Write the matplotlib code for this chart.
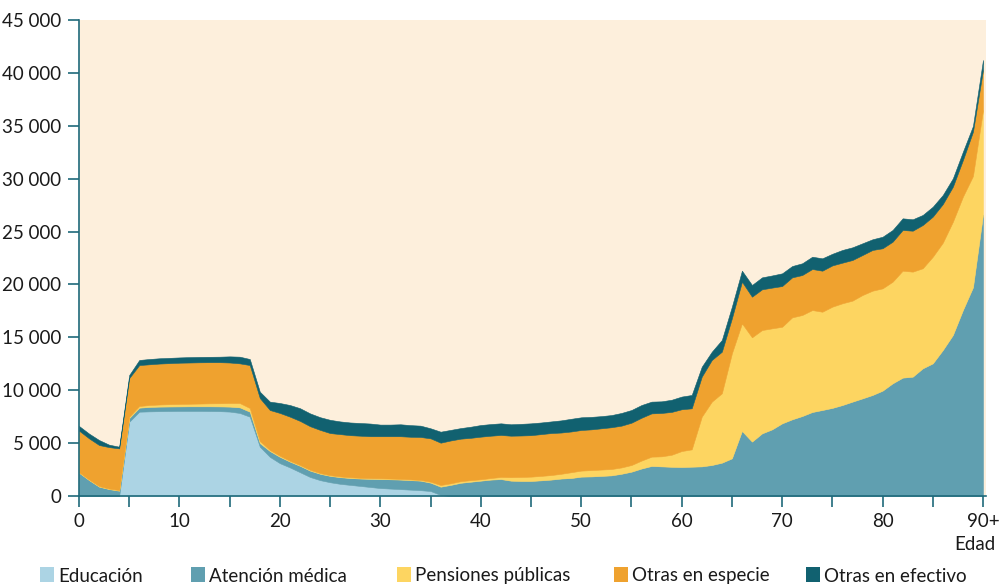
import numpy as np
import matplotlib.pyplot as plt
from matplotlib.patches import Rectangle
from matplotlib.ticker import FuncFormatter, MultipleLocator

plt.rcParams['font.family'] = ['Lato', 'DejaVu Sans']

ages = np.arange(0, 91)

educacion = [0, 0, 0, 0, 0, 7020, 7970, 8000, 8020, 8030,
             8040, 8040, 8040, 8030, 8020, 7980, 7850, 7500, 4660, 3700,
             3100, 2700, 2250, 1800, 1500, 1300, 1150, 1050, 950, 850,
             750, 700, 650, 600, 550, 470, 100, 0, 0, 0,
             0, 0, 0, 0, 0, 0, 0, 0, 0, 0,
             0, 0, 0, 0, 0, 0, 0, 0, 0, 0,
             0, 0, 0, 0, 0, 0, 0, 0, 0, 0,
             0, 0, 0, 0, 0, 0, 0, 0, 0, 0,
             0, 0, 0, 0, 0, 0, 0, 0, 0, 0, 0]

atencion = [2200, 1500, 880, 650, 500, 350, 380, 420, 430, 430,
            430, 440, 440, 450, 450, 470, 530, 470, 340, 550,
            600, 550, 600, 600, 600, 600, 630, 650, 700, 770,
            850, 880, 900, 900, 900, 790, 780, 1050, 1250, 1350,
            1450, 1550, 1600, 1450, 1420, 1420, 1480, 1550, 1650, 1700,
            1830, 1850, 1900, 1950, 2100, 2300, 2600, 2840, 2800, 2760,
            2740, 2770, 2800, 2930, 3150, 3560, 6150, 5140, 5920, 6300,
            6870, 7250, 7560, 7940, 8130, 8330, 8600, 8920, 9230, 9550,
            9960, 10650, 11190, 11280, 12070, 12540, 13800, 15220, 17580, 19730,
            26600]

pensiones = [50, 60, 60, 50, 60, 130, 160, 180, 200, 220,
             230, 240, 260, 280, 300, 340, 410, 350, 200, 100,
             100, 80, 80, 80, 70, 70, 70, 70, 70, 70,
             70, 70, 70, 70, 70, 90, 160, 150, 150, 150,
             130, 150, 200, 330, 380, 410, 420, 430, 450, 550,
             570, 600, 600, 600, 600, 630, 750, 880, 950, 1140,
             1510, 1640, 4700, 5990, 6560, 9930, 10170, 9860, 9770, 9550,
             9130, 9640, 9550, 9640, 9290, 9570, 9620, 9550, 9770, 9860,
             9670, 9610, 10110, 9930, 9460, 10080, 10150, 10710, 10720, 10520,
             9890]

especie = [3930, 3890, 3880, 3920, 3940, 3650, 3870, 3850, 3870, 3880,
           3900, 3900, 3900, 3890, 3880, 3830, 3750, 4060, 4060, 3780,
           4050, 4170, 4170, 4120, 4080, 3980, 4000, 3980, 3980, 3960,
           3980, 4000, 4030, 4030, 4060, 4100, 4000, 4050, 4020, 4000,
           4030, 4000, 3970, 3920, 3920, 3920, 3950, 3970, 3900, 3850,
           3840, 3850, 3900, 3950, 3950, 4000, 4050, 4090, 4100, 4050,
           3950, 3880, 3780, 3940, 3930, 3310, 3940, 3840, 3850, 3850,
           3850, 3780, 3780, 3880, 3880, 3900, 3840, 3840, 3780, 3850,
           3790, 3780, 3850, 3870, 4090, 3790, 3650, 3310, 3460, 4190,
           3780]

efectivo = [440, 450, 470, 230, 160, 290, 480, 500, 500, 500,
            500, 510, 510, 510, 520, 580, 630, 570, 600, 790,
            940, 1100, 1200, 1210, 1200, 1250, 1200, 1200, 1200, 1200,
            1100, 1100, 1130, 1100, 1070, 950, 1040, 1000, 1000, 1050,
            1100, 1100, 1100, 1080, 1100, 1120, 1100, 1100, 1150, 1200,
            1200, 1180, 1150, 1150, 1200, 1200, 1200, 1110, 1100, 1150,
            1200, 1260, 940, 780, 1110, 1100, 1040, 1110, 1130, 1150,
            1200, 1070, 1110, 1160, 1170, 1100, 1200, 1200, 1110, 1010,
            1090, 1110, 1100, 1080, 950, 940, 860, 790, 790, 540,
            950]

labels = ['Educación', 'Atención médica', 'Pensiones públicas',
          'Otras en especie', 'Otras en efectivo']
colors = ['#acd4e4', '#609fb0', '#fdd561', '#efa22f', '#116170']
x_ticks = [0, 10, 20, 30, 40, 50, 60, 70, 80, 90]
x_labels = ['0', '10', '20', '30', '40', '50', '60', '70', '80', '90+']

axis_col = '#1f6a7a'
W, H = 1000, 585
fs = 13.5

fig = plt.figure(figsize=(10, 5.85), dpi=100)
ax = fig.add_axes([0.079, 1 - 496 / H, 0.907, 476 / H])
ax.set_facecolor('#fdefdc')

polys = ax.stackplot(ages, educacion, atencion, pensiones, especie, efectivo,
                     colors=colors)
for p in polys:
    p.set_edgecolor('face')
    p.set_linewidth(0.4)

ax.set_xlim(0, 90.3)
ax.set_ylim(0, 45000)
ax.set_xticks(x_ticks)
ax.set_xticklabels(x_labels)
ax.xaxis.set_minor_locator(MultipleLocator(5))
ax.yaxis.set_major_locator(MultipleLocator(5000))
ax.yaxis.set_major_formatter(FuncFormatter(lambda v, _: f"{int(v):,}".replace(',', ' ')))

for s in ['top', 'right']:
    ax.spines[s].set_visible(False)
for s in ['left', 'bottom']:
    ax.spines[s].set_color(axis_col)
    ax.spines[s].set_linewidth(1.2)

ax.tick_params(axis='both', which='both', length=8, width=1.2, color=axis_col,
               labelsize=fs, labelcolor='#1a1a1a')
ax.tick_params(axis='y', pad=5)
ax.tick_params(axis='x', pad=4)

fig.text(0.995, 1 - 545 / H, 'Edad', ha='right', va='center', fontsize=fs,
         color='#1a1a1a')

# legend row, drawn by hand to match spacing
sq_x = [40, 191, 397, 614, 806]
for xs, lab, c in zip(sq_x, labels, colors):
    fig.patches.append(Rectangle((xs / W, 1 - 582 / H), 14 / W, 15 / H,
                                 transform=fig.transFigure, facecolor=c,
                                 edgecolor='none'))
    fig.text((xs + 18) / W, 1 - 576 / H, lab, ha='left', va='center',
             fontsize=fs, color='#1a1a1a')

fig.savefig('out.png', dpi=100)
